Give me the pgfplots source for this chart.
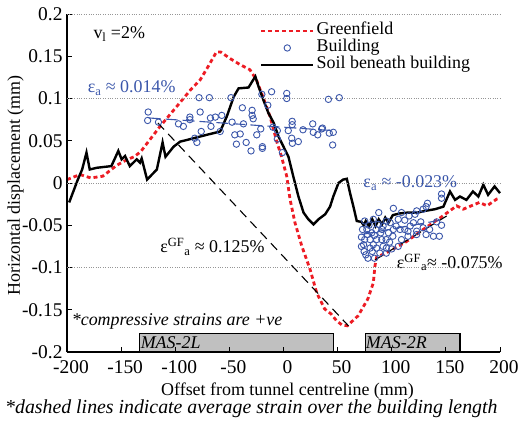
\documentclass[border=0pt]{standalone}
\usepackage{fontspec}
\setmainfont{Liberation Serif}
\usepackage{pgfplots}
\pgfplotsset{compat=1.18}

\definecolor{gfred}{RGB}{237,28,36}
\definecolor{bldblue}{RGB}{58,86,170}
\definecolor{boxgray}{RGB}{192,192,192}
\definecolor{gridgray}{RGB}{150,150,150}

\newcommand{\chartfont}{\fontsize{18}{20}\selectfont}
\newcommand{\tickfont}{\fontsize{19.5}{21}\selectfont}

\pgfplotsset{
  longleg/.style={legend image code/.code={
    \draw[mark repeat=2,mark phase=2,##1] plot coordinates {(0bp,0bp) (26bp,0bp) (52bp,0bp)};}},
}

\begin{document}
\begin{tikzpicture}
\path[use as bounding box] (-67bp,-70bp) rectangle (451bp,352bp);
\begin{axis}[
  scale only axis,
  width=433bp, height=338bp,
  xmin=-200, xmax=200, ymin=-0.2, ymax=0.2,
  axis lines=left,
  axis line style={line width=1.4bp,-},
  tick align=inside,
  major tick length=5bp,
  tick style={black,line width=0.9bp},
  xtick={-200,-150,-100,-50,0,50,100,150,200},
  xticklabels={\textrm{-200},\textrm{-150},\textrm{-100},\textrm{-50},\textrm{0},\textrm{50},\textrm{100},\textrm{150},\textrm{200}},
  ytick={-0.2,-0.15,-0.1,-0.05,0,0.05,0.1,0.15,0.2},
  yticklabels={\textrm{-0.2},\textrm{-0.15},\textrm{-0.1},\textrm{-0.05},\textrm{0},\textrm{0.05},\textrm{0.1},\textrm{0.15},\textrm{0.2}},
  extra y ticks={-0.1,0,0.1,0.2},
  extra y tick labels={},
  extra y tick style={grid=major, major tick length=0pt},
  major grid style={draw=gridgray, dotted, line width=0.8bp},
  tick label style={font=\tickfont},
  xticklabel style={yshift=-5bp, xshift=4bp},
  yticklabel style={xshift=-1bp},
  clip=false,
  axis on top,
  legend style={at={(0.445,0.98)}, anchor=north west, draw=none, fill=none,
    font=\chartfont, row sep=-3bp, inner sep=0bp,
    nodes={inner sep=2bp, text height=12bp, text depth=4bp}},
  legend cell align=left,
  longleg,
]

% Greenfield
\addplot[gfred, line width=2.8bp, dash pattern=on 4bp off 3bp] coordinates {
(-200,0.004) (-188,0.010) (-178,0.006) (-167,0.008) (-154,0.021) (-144,0.028)
(-138,0.031) (-132,0.037) (-126,0.047) (-114,0.067) (-99,0.090) (-86,0.110)
(-77,0.122) (-70,0.137) (-62,0.155) (-58,0.155) (-49,0.147) (-40,0.140)
(-31,0.134) (-25,0.122) (-19,0.102) (-12.5,0.079) (-6,0.048) (-2,0.032)
(3,0.008) (6,-0.019) (10.6,-0.047) (17,-0.075) (24.5,-0.102) (30.7,-0.130)
(38,-0.149) (44,-0.155) (49,-0.163) (54,-0.168) (59,-0.169) (69,-0.157)
(78,-0.137) (83,-0.118) (84.5,-0.098) (86,-0.088) (99,-0.080) (114,-0.069)
(129,-0.055) (145,-0.041) (160,-0.027) (166,-0.031) (181,-0.023) (188,-0.027)
(197,-0.019) (200,-0.018)
};
\addlegendentry{Greenfield}

% Building
\addplot[only marks, mark=o, mark size=3.2bp, bldblue, mark options={line width=0.9bp}] coordinates {
(-125,0.084) (-125.5,0.074) (-115.5,0.072) (-97,0.070) (-92.5,0.067) (-86.5,0.078)
(-86.5,0.075) (-82,0.053) (-80,0.048) (-78,0.101) (-77,0.084) (-76,0.061)
(-68.5,0.101) (-67.5,0.077) (-67,0.067) (-63,0.078) (-57,0.080) (-58.5,0.061)
(-48.5,0.101) (-47.5,0.072) (-45,0.057) (-43.5,0.046) (-40,0.058) (-38,0.089)
(-37,0.070) (-34.5,0.048) (-29,0.086) (-29,0.080) (-28,0.076) (-30,0.038)
(-24.7,0.057) (-21,0.064) (-20,0.105) (-19.5,0.043) (-19.5,0.041) (-14.5,0.092)
(-11,0.108) (-9.8,0.066) (-5.7,0.062) (-5.7,0.052) (-1,0.036) (3,0.106)
(3,0.100) (4.4,0.062) (8,0.073) (8,0.069) (7.6,0.053) (8.2,0.047)
(13.7,0.049) (18,0.063) (27,0.070) (27.5,0.060) (31.6,0.057) (35.3,0.064)
(36,0.065) (41.5,0.099) (42.3,0.059) (46,0.060) (45.4,0.045) (51.5,0.101)
(146,-0.013) (146,-0.018) (133,-0.024) (131.7,-0.028) (129,-0.031) (123,-0.033)
(121.5,-0.037) (116,-0.039) (109,-0.035) (101.5,-0.030) (106,-0.043) (112,-0.044)
(117,-0.051) (123,-0.057) (129,-0.053) (131.7,-0.061) (135,-0.055) (141.5,-0.046)
(146,-0.050) (138.5,-0.063) (144,-0.063) (123,-0.061) (115,-0.063) (109,-0.067)
(106,-0.075) (100,-0.078) (95,-0.083) (89,-0.083) (88,-0.035) (83,-0.043)
(75,-0.045) (73,-0.055) (72,-0.064) (74,-0.073) (74.5,-0.081) (76,-0.085)
(80,-0.077) (80,-0.067) (81.5,-0.059) (85.5,-0.055) (86,-0.067) (89.8,-0.059)
(92,-0.051) (94.8,-0.067) (95,-0.077) (97,-0.059) (98.5,-0.047) (101,-0.063)
(101.5,-0.055) (104,-0.051) (107.7,-0.055) (112,-0.055) (115,-0.057) (120,-0.047)
(126.8,-0.046) (83,-0.073) (78,-0.089) (84,-0.089) (77,-0.055) (86,-0.077)
(90.8,-0.067) (92,-0.075) (87.7,-0.049) (95,-0.045) (77.5,-0.061) (72,-0.075)
(82,-0.081) (75,-0.067) (79,-0.050) (91,-0.055) (84,-0.062) (98,-0.070)
};
\addlegendentry{Building}

% Soil beneath building
\addplot[black, line width=2.4bp] coordinates {
(-198,-0.023) (-190,0.004) (-186,0.016) (-182,0.036) (-179,0.016) (-172.5,0.018)
(-159,0.020) (-152.6,0.038) (-149.5,0.028) (-146.4,0.032) (-142,0.020) (-135.6,0.028)
(-132.6,0.024) (-131,0.029) (-126,0.004) (-117,0.016) (-111.7,0.048) (-109,0.031)
(-101.5,0.043) (-95.4,0.049) (-89,0.051) (-83,0.053) (-77,0.055) (-71,0.057)
(-64.6,0.059) (-58.5,0.061) (-52.3,0.079) (-46,0.102) (-41.5,0.112) (-32.3,0.113)
(-29,0.120) (-26,0.126) (-23,0.114) (-18.5,0.098) (-14,0.083) (-9,0.071)
(-4.6,0.055) (0,0.043) (4.6,0.031) (9,0.008) (13.8,-0.016) (18.5,-0.035)
(23,-0.043) (27.7,-0.049) (32.3,-0.043) (38.5,-0.037) (43,-0.028) (46,-0.016)
(50.8,0.000) (55,0.004) (58.5,0.005) (61.5,-0.012) (64.6,-0.028) (67.7,-0.045)
(72,-0.046) (74,-0.050) (76,-0.045) (79,-0.051) (82,-0.043) (85,-0.051)
(88,-0.043) (91,-0.049) (94,-0.041) (97,-0.047) (101,-0.038) (107.6,-0.036)
(115,-0.035) (124,-0.035) (130.7,-0.033) (140,-0.031) (147.7,-0.028) (153.8,-0.010)
(158.5,-0.020) (163,-0.016) (169,-0.020) (175,-0.010) (180,-0.016) (184.6,-0.002)
(189,-0.014) (195,-0.004) (200,-0.012)
};
\addlegendentry{Soil beneath building}

% average strain lines
\addplot[black, line width=1.1bp, dash pattern=on 9bp off 6bp, forget plot]
  coordinates {(-116,0.071) (60,-0.169)};
\addplot[black, line width=1.1bp, dash pattern=on 9bp off 6bp, forget plot]
  coordinates {(84.6,-0.091) (150.8,-0.039)};
\addplot[bldblue, line width=1.1bp, dash pattern=on 12bp off 5bp, forget plot]
  coordinates {(-124.6,0.077) (46,0.062)};
\addplot[bldblue, line width=1.1bp, dash pattern=on 12bp off 5bp, forget plot]
  coordinates {(72,-0.061) (145,-0.044)};

% building footprints
\addplot[draw=black, line width=1.2bp, fill=boxgray, forget plot]
  coordinates {(-133,-0.2) (46,-0.2) (46,-0.178) (-133,-0.178) (-133,-0.2)};
\addplot[draw=black, line width=1.2bp, fill=boxgray, forget plot]
  coordinates {(75.5,-0.2) (163,-0.2) (163,-0.178) (75.5,-0.178) (75.5,-0.2)};

\node[anchor=base west, inner sep=0, font=\chartfont\itshape] at (axis cs:-132,-0.1956) {MAS-2L};
\node[anchor=base west, inner sep=0, font=\chartfont\itshape] at (axis cs:76,-0.1956) {MAS-2R};

\node[anchor=base west, inner sep=0, font=\chartfont] at (axis cs:-175.7,0.171) {v\textsubscript{l} =2\%};
\node[anchor=base west, inner sep=0, font=\chartfont, text=bldblue] at (axis cs:-181,0.107) {ε\textsubscript{a} ≈ 0.014\%};
\node[anchor=base west, inner sep=0, font=\chartfont] at (axis cs:-114,-0.0824) {ε\textsuperscript{GF}\textsubscript{a} ≈ 0.125\%};
\node[anchor=base west, inner sep=0, font=\chartfont, text=bldblue] at (axis cs:73.7,-0.0057) {ε\textsubscript{a} ≈ -0.023\%};
\node[anchor=base west, inner sep=0, font=\chartfont] at (axis cs:104.6,-0.101) {ε\textsuperscript{GF}\textsubscript{a}≈ -0.075\%};
\node[anchor=base west, inner sep=0, font=\chartfont\itshape] at (axis cs:-195.7,-0.169) {*compressive strains are +ve};
\end{axis}

\node[rotate=90, anchor=base, inner sep=0, font=\chartfont] at (-47bp,166.5bp) {Horizontal displacement (mm)};
\node[anchor=base, inner sep=0, font=\chartfont] at (220.5bp,-43bp) {Offset from tunnel centreline (mm)};
\node[anchor=base west, inner sep=0, font=\fontsize{19.9}{21}\selectfont\itshape] at (-62bp,-61bp) {*dashed lines indicate average strain over the building length};
\end{tikzpicture}
\end{document}
